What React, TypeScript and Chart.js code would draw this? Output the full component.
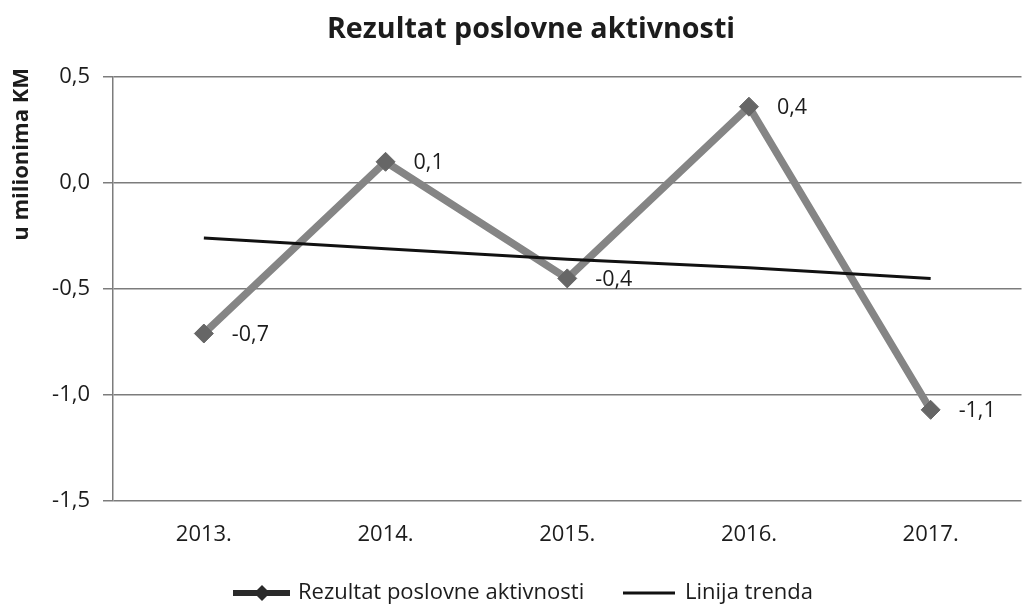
import React, { useEffect, useRef } from "react";
import { Chart, registerables } from "chart.js";

Chart.register(...registerables);

const CHART_TITLE = "Rezultat poslovne aktivnosti";
const Y_TITLE = "u milionima KM";
const YEARS = ["2013.", "2014.", "2015.", "2016.", "2017."];
const RESULT = [-0.71, 0.1, -0.45, 0.36, -1.07];
const RESULT_LABELS = ["-0,7", "0,1", "-0,4", "0,4", "-1,1"];
const TREND = [-0.26, -0.31, -0.36, -0.4, -0.45];
const SERIES_NAME = "Rezultat poslovne aktivnosti";
const TREND_NAME = "Linija trenda";
const Y_MIN = -1.5;
const Y_MAX = 0.5;
const Y_STEP = 0.5;

const FONT = "'Open Sans', 'DejaVu Sans', sans-serif";
const TEXT = "#1c1c1c";
const GRID = "#7c7c7c";
const LINE = "#858585";
const POINT = "#666666";

const decorPlugin = {
  id: "decor",
  afterDatasetsDraw(chart: any) {
    const ctx = chart.ctx;
    const meta = chart.getDatasetMeta(0);
    ctx.save();
    ctx.fillStyle = TEXT;
    ctx.font = `21.5px ${FONT}`;
    ctx.textAlign = "left";
    ctx.textBaseline = "middle";
    meta.data.forEach((pt: any, i: number) => {
      ctx.fillText(RESULT_LABELS[i], pt.x + 28, pt.y + 1);
    });
    ctx.restore();
  },
  afterDraw(chart: any) {
    const ctx = chart.ctx;
    ctx.save();
    // main title
    ctx.fillStyle = TEXT;
    ctx.font = `bold 28.7px ${FONT}`;
    ctx.textAlign = "center";
    ctx.textBaseline = "alphabetic";
    ctx.fillText(CHART_TITLE, 531, 38);
    // y axis title
    ctx.save();
    ctx.translate(28, 68);
    ctx.rotate(-Math.PI / 2);
    ctx.font = `bold 22px ${FONT}`;
    ctx.textAlign = "right";
    ctx.fillText(Y_TITLE, 0, 0);
    ctx.restore();
    // legend
    const ly = 593;
    ctx.lineCap = "butt";
    ctx.strokeStyle = "#2a2a2a";
    ctx.lineWidth = 6;
    ctx.beginPath();
    ctx.moveTo(233, ly);
    ctx.lineTo(290, ly);
    ctx.stroke();
    ctx.fillStyle = "#2a2a2a";
    ctx.beginPath();
    ctx.moveTo(262, ly - 8);
    ctx.lineTo(270, ly);
    ctx.lineTo(262, ly + 8);
    ctx.lineTo(254, ly);
    ctx.closePath();
    ctx.fill();
    ctx.strokeStyle = "#111";
    ctx.lineWidth = 3;
    ctx.beginPath();
    ctx.moveTo(623, ly);
    ctx.lineTo(675, ly);
    ctx.stroke();
    ctx.fillStyle = TEXT;
    ctx.font = `22px ${FONT}`;
    ctx.textAlign = "left";
    ctx.textBaseline = "middle";
    ctx.fillText(SERIES_NAME, 298, ly - 0.5);
    ctx.fillText(TREND_NAME, 685, ly - 0.5);
    ctx.restore();
  },
};

export default function App() {
  const ref = useRef<HTMLCanvasElement | null>(null);
  useEffect(() => {
    if (!ref.current) return;
    const chart = new Chart(ref.current, {
      type: "line",
      data: {
        labels: YEARS,
        datasets: [
          {
            label: SERIES_NAME,
            data: RESULT,
            borderColor: LINE,
            backgroundColor: POINT,
            borderWidth: 7.5,
            pointStyle: "rectRot",
            pointRadius: 9.5,
            pointBackgroundColor: POINT,
            pointBorderColor: POINT,
            pointBorderWidth: 1,
            tension: 0,
            order: 2,
          },
          {
            label: TREND_NAME,
            data: TREND,
            borderColor: "#111111",
            borderWidth: 3,
            pointRadius: 0,
            tension: 0,
            order: 1,
          },
        ],
      },
      options: {
        animation: false,
        responsive: false,
        maintainAspectRatio: false,
        layout: { padding: { top: 77, left: 0, right: 0, bottom: 0 } },
        plugins: {
          legend: { display: false },
          title: { display: false },
          tooltip: { enabled: false },
        },
        scales: {
          x: {
            type: "category",
            offset: true,
            grid: { display: false, drawTicks: false },
            border: { display: false },
            ticks: {
              color: TEXT,
              font: { family: FONT, size: 22 },
              padding: 21,
              maxRotation: 0,
            },
            afterFit(scale: any) {
              scale.height = 103;
            },
          },
          y: {
            min: Y_MIN,
            max: Y_MAX,
            grid: { color: GRID, lineWidth: 1.5, tickLength: 10, drawTicks: true },
            border: { display: true, color: GRID, width: 1.5 },
            ticks: {
              stepSize: Y_STEP,
              color: TEXT,
              font: { family: FONT, size: 22 },
              padding: 13,
              callback: (v: any) => Number(v).toFixed(1).replace(".", ","),
            },
            afterFit(scale: any) {
              scale.width = 113;
            },
          },
        },
      },
      plugins: [decorPlugin],
    });
    return () => chart.destroy();
  }, []);
  return (
    <div style={{ position: "absolute", left: 0, top: 0, width: 1032, height: 604, overflow: "hidden", background: "#fff" }}>
      <canvas ref={ref} width={1032} height={604} style={{ width: 1032, height: 604, display: "block" }} />
    </div>
  );
}
